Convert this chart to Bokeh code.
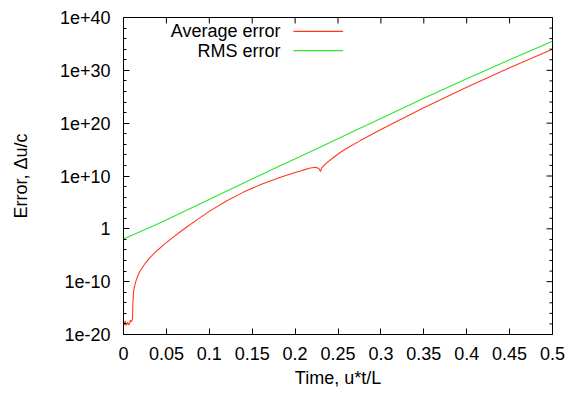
import math
from bokeh.plotting import figure
from bokeh.models import (Range1d, FixedTicker, CustomJSTickFormatter, Label, Arrow)
from bokeh.embed import file_html
from bokeh.resources import INLINE

# ---- data (errors given as log10 values) ----
avg_t = [0.0, 0.001, 0.002, 0.003, 0.004, 0.005, 0.006, 0.007, 0.008, 0.009, 0.0098,
         0.0105, 0.011, 0.0115, 0.012, 0.013, 0.015, 0.0175, 0.02, 0.025, 0.03, 0.035,
         0.04, 0.047, 0.055, 0.065, 0.075, 0.085, 0.1, 0.12, 0.14, 0.16, 0.183, 0.2,
         0.2063, 0.212, 0.218, 0.2238, 0.2277, 0.2296, 0.2308, 0.2354, 0.2451, 0.2529,
         0.26, 0.276, 0.3, 0.35, 0.4, 0.45, 0.5]
avg_log10 = [-17.6, -18.2, -17.4, -18.3, -18.0, -17.7, -18.2, -17.9, -17.3, -17.6, -17.4,
             -17.0, -14.0, -12.5, -11.6, -10.8, -9.6, -8.6, -7.8, -6.6, -5.6, -4.75,
             -4.0, -3.0, -1.95, -0.7, 0.5, 1.65, 3.3, 5.25, 6.95, 8.4, 9.75, 10.65,
             10.95, 11.25, 11.5, 11.65, 11.4, 10.85, 11.5, 12.3, 13.55, 14.5,
             15.2, 16.7, 18.8, 22.9, 26.8, 30.5, 34.0]

rms_t = [0.0, 0.002, 0.005, 0.01, 0.043, 0.09, 0.183, 0.206, 0.253, 0.27, 0.3, 0.35,
         0.4, 0.45, 0.5]
rms_log10 = [-2.2, -1.75, -1.55, -1.2, 1.15, 4.8, 12.0, 13.7, 17.3, 18.6, 20.9, 24.7,
             28.4, 32.0, 35.5]

x_ticks = [0.0, 0.05, 0.1, 0.15, 0.2, 0.25, 0.3, 0.35, 0.4, 0.45, 0.5]
x_tick_labels = ["0", "0.05", "0.1", "0.15", "0.2", "0.25", "0.3", "0.35", "0.4", "0.45", "0.5"]
y_tick_exps = [-20, -10, 0, 10, 20, 30, 40]
y_tick_labels = ["1e-20", "1e-10", "1", "1e+10", "1e+20", "1e+30", "1e+40"]

series_names = ["Average error", "RMS error"]
series_colors = ["#ff3a1f", "#2ee62e"]

FONT = "Liberation Sans"
FS = "18px"

avg_y = [10.0 ** e for e in avg_log10]
rms_y = [10.0 ** e for e in rms_log10]
y_ticks = [10.0 ** e for e in y_tick_exps]
y_minor = [10.0 ** e for e in range(-20, 41, 2) if e % 10 != 0]
x_lo, x_hi = 0.0, 0.5
y_lo, y_hi = 1e-20, 1e40

p = figure(width=574, height=394, y_axis_type="log",
           x_range=Range1d(x_lo, x_hi), y_range=Range1d(y_lo, y_hi),
           output_backend="svg", toolbar_location=None,
           min_border_left=123, min_border_right=22, min_border_top=17,
           min_border_bottom=60)
p.grid.visible = False
p.outline_line_color = "black"
p.outline_line_width = 1
p.background_fill_color = "white"
p.border_fill_color = "white"

p.line(avg_t, avg_y, line_color=series_colors[0], line_width=1.1)
p.line(rms_t, rms_y, line_color=series_colors[1], line_width=1.1)

# mirrored tick marks on the top and right borders (gnuplot "mirror")
p.scatter(x_ticks, [y_hi] * len(x_ticks), marker="dash", angle=math.pi / 2,
          size=12, line_color="black", line_width=1)
p.scatter([x_hi] * len(y_ticks), y_ticks, marker="dash", size=12,
          line_color="black", line_width=1)
p.scatter([x_hi] * len(y_minor), y_minor, marker="dash", size=6,
          line_color="black", line_width=1)

xfmt = CustomJSTickFormatter(args=dict(xt=x_ticks, xl=x_tick_labels), code="""
let best = 0;
for (let k = 0; k < xt.length; k++) {
  if (Math.abs(xt[k] - tick) < Math.abs(xt[best] - tick)) best = k;
}
return xl[best];
""")
yfmt = CustomJSTickFormatter(args=dict(ye=y_tick_exps, yl=y_tick_labels), code="""
const e = Math.log10(tick);
let best = 0;
for (let k = 0; k < ye.length; k++) {
  if (Math.abs(ye[k] - e) < Math.abs(ye[best] - e)) best = k;
}
return yl[best];
""")

def style(ax):
    ax.axis_line_color = "black"
    ax.major_tick_in = 6
    ax.major_tick_out = 0
    ax.minor_tick_in = 3
    ax.minor_tick_out = 0
    ax.major_tick_line_color = "black"
    ax.minor_tick_line_color = "black"
    ax.major_label_text_font = FONT
    ax.major_label_text_font_size = FS
    ax.major_label_text_color = "black"
    ax.axis_label_text_font = FONT
    ax.axis_label_text_font_size = FS
    ax.axis_label_text_font_style = "normal"
    ax.axis_label_text_color = "black"

xax = p.xaxis[0]
xax.ticker = FixedTicker(ticks=x_ticks)
xax.formatter = xfmt
xax.axis_label = "Time, u*t/L"
style(xax)
xax.major_label_standoff = 12
xax.axis_label_standoff = 5

yax = p.yaxis[0]
yax.ticker = FixedTicker(ticks=y_ticks, minor_ticks=y_minor)
yax.formatter = yfmt
yax.axis_label = "Error, \u0394u/c"
style(yax)
yax.major_label_standoff = 13
yax.axis_label_standoff = 26

# ---- key (gnuplot style: text right-aligned, sample line to the right) ----
key_text_x = 0.183
key_line_x = [0.198, 0.256]
key_rows_y = [10.0 ** 37.37, 10.0 ** 33.73]
for name, col, yy in zip(series_names, series_colors, key_rows_y):
    p.add_layout(Label(x=key_text_x, y=yy, text=name, text_align="right",
                       text_baseline="middle", text_font=FONT, text_font_size=FS,
                       text_color="black"))
    p.add_layout(Arrow(x_start=key_line_x[0], y_start=yy, x_end=key_line_x[1], y_end=yy,
                       end=None, line_color=col, line_width=1.1))

open("out.html", "w").write(file_html(p, INLINE))
